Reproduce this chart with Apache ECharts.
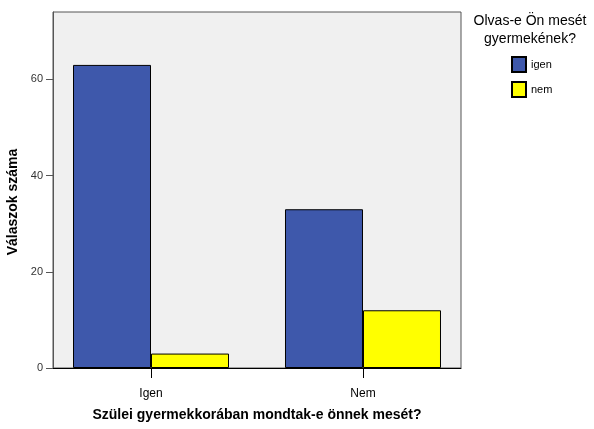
<!DOCTYPE html>
<html>
<head>
<meta charset="utf-8">
<script src="https://cdn.jsdelivr.net/npm/echarts@6/dist/echarts.min.js"></script>
<style>html,body{margin:0;padding:0;background:#fff}#c{width:594px;height:429px}</style>
</head>
<body>
<div id="c"></div>
<script>
var categories = ['Igen', 'Nem'];
var seriesNames = ['igen', 'nem'];
var igenValues = [63, 33];
var nemValues = [3, 12];
var yTicks = [0, 20, 40, 60];
var xTitle = 'Szülei gyermekkorában mondtak-e önnek mesét?';
var yTitle = 'Válaszok száma';
var legendTitle = 'Olvas-e Ön mesét\ngyermekének?';

var font = 'Liberation Sans, Arial, sans-serif';
var chart = echarts.init(document.getElementById('c'), null, {renderer: 'canvas'});
function toXY(arr) { return arr.map(function (v, i) { return [i, v]; }); }
var catIdx = categories.map(function (c, i) { return i; });

chart.setOption({
  animation: false,
  textStyle: {fontFamily: font},
  title: {
    text: legendTitle, left: 530, top: 12, textAlign: 'center', padding: 0,
    textStyle: {fontFamily: font, fontSize: 14, fontWeight: 'normal', color: '#000', lineHeight: 18}
  },
  legend: {
    orient: 'vertical', left: 511, top: 56, itemWidth: 14, itemHeight: 15, itemGap: 8,
    padding: 0, icon: 'rect',
    textStyle: {fontFamily: font, fontSize: 11, color: '#000'},
    data: seriesNames
  },
  grid: {
    left: 53, top: 12, width: 408, height: 356, outerBoundsMode: 'none', containLabel: false,
    show: true, backgroundColor: '#f0f0f0', borderColor: '#555', borderWidth: 1
  },
  xAxis: {
    type: 'value', min: -0.4623, max: 1.4623,
    name: xTitle, nameLocation: 'middle', nameGap: 40,
    nameTextStyle: {fontFamily: font, fontSize: 14, fontWeight: 'bold', color: '#000'},
    axisLine: {show: true, onZero: false, lineStyle: {color: '#000', width: 1}},
    axisTick: {show: true, inside: false, length: 10, customValues: catIdx, lineStyle: {color: '#000', width: 1}},
    axisLabel: {customValues: catIdx, margin: 20, fontSize: 12, color: '#000', fontFamily: font,
      formatter: function (v) { return categories[Math.round(v)]; }},
    splitLine: {show: false}
  },
  yAxis: {
    type: 'value', min: 0, max: 74, interval: 20,
    name: yTitle, nameLocation: 'middle', nameGap: 31,
    nameTextStyle: {fontFamily: font, fontSize: 14, fontWeight: 'bold', color: '#000', padding: [0, 24, 0, 0]},
    axisLine: {show: true, onZero: false, lineStyle: {color: '#555'}},
    axisTick: {show: true, length: 7, customValues: yTicks, lineStyle: {color: '#555'}},
    axisLabel: {customValues: yTicks, fontSize: 11, color: '#333', margin: 10, fontFamily: font},
    splitLine: {show: false}
  },
  series: [
    {name: seriesNames[0], type: 'bar', data: toXY(igenValues), barWidth: 78, barGap: '0%',
     itemStyle: {color: '#3e58ab', borderColor: '#000', borderWidth: 1}},
    {name: seriesNames[1], type: 'bar', data: toXY(nemValues), barWidth: 78, barGap: '0%',
     itemStyle: {color: '#ffff00', borderColor: '#000', borderWidth: 1}}
  ]
});
</script>
</body>
</html>
